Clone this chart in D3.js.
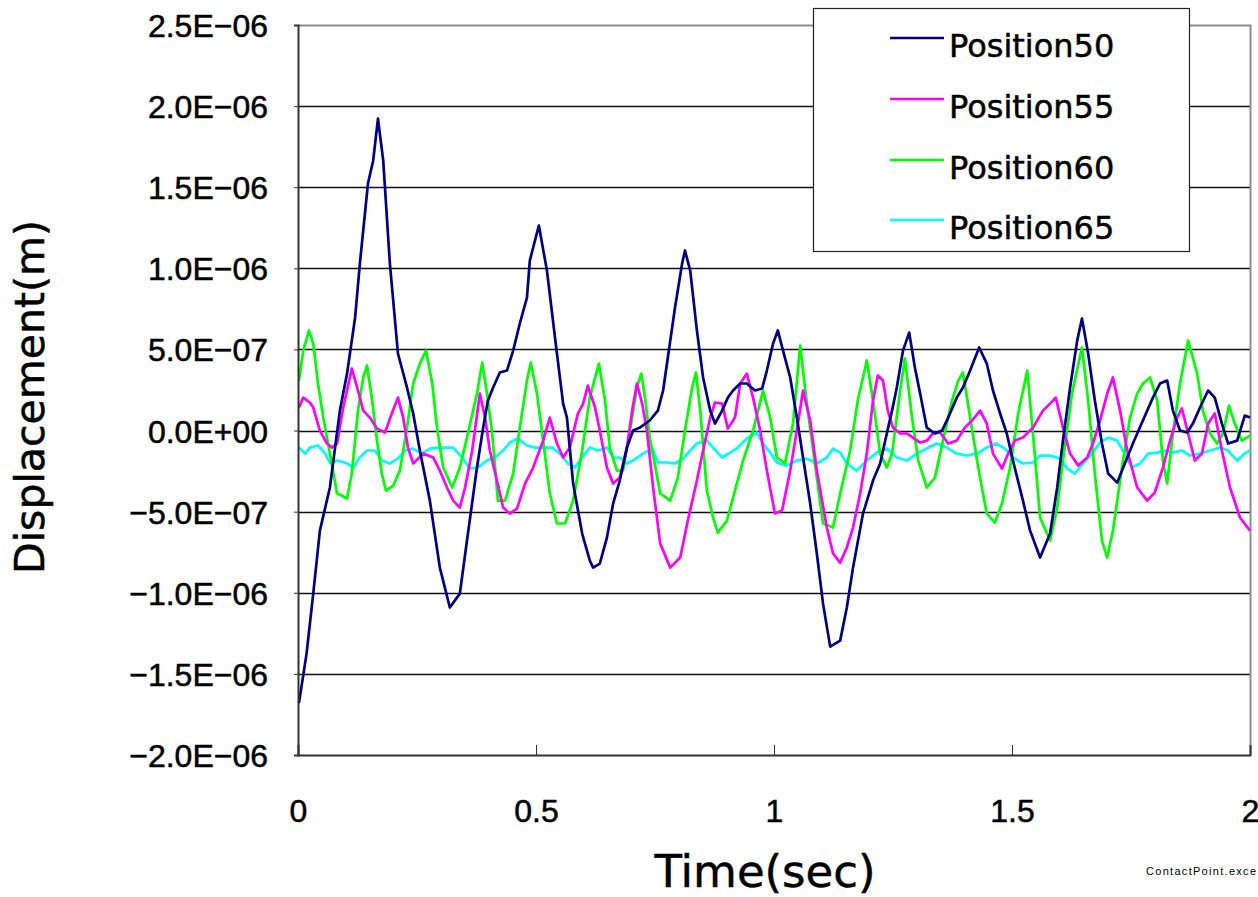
<!DOCTYPE html>
<html>
<head>
<meta charset="utf-8">
<script src="https://cdn.jsdelivr.net/npm/d3@7/dist/d3.min.js"></script>
<style>
  html, body { margin: 0; padding: 0; background: #fff; }
  svg { display: block; }
</style>
</head>
<body>
<svg id="chart" width="1258" height="897"></svg>
<script>
// ---------------- DATA ----------------
// values are in units of 1e-7 m, time in seconds
const UNIT = 1e-7;
const seriesNames = ["Position50", "Position55", "Position60", "Position65"];
const seriesColors = ["#000080", "#FF00FF", "#00FF00", "#00FFFF"];

const xTickValues = [0, 0.5, 1, 1.5, 2];
const xTickLabels = ["0", "0.5", "1", "1.5", "2"];
const yTickValues = [2.5e-6, 2.0e-6, 1.5e-6, 1.0e-6, 5.0e-7, 0, -5.0e-7, -1.0e-6, -1.5e-6, -2.0e-6];
const yTickLabels = ["2.5E\u221206", "2.0E\u221206", "1.5E\u221206", "1.0E\u221206", "5.0E\u221207", "0.0E+00",
                     "\u22125.0E\u221207", "\u22121.0E\u221206", "\u22121.5E\u221206", "\u22122.0E\u221206"];

const pos50 = [
[0.002,-16.8],[0.018,-13.75],[0.032,-10.05],[0.046,-6.17],[0.067,-3.51],[0.088,1.23],[0.103,3.51],[0.120,6.97],
[0.130,10.30],[0.147,15.23],[0.158,16.65],[0.168,19.23],[0.179,16.65],[0.193,10.30],[0.210,4.75],[0.229,2.65],
[0.242,1.05],[0.256,-1.23],[0.277,-4.32],[0.298,-8.45],[0.319,-10.91],[0.340,-10.05],[0.355,-6.78],[0.376,-2.28],
[0.389,0.18],[0.399,1.85],[0.410,2.65],[0.424,3.58],[0.439,3.70],[0.452,4.93],[0.466,6.60],[0.481,8.20],
[0.487,10.48],[0.506,12.64],[0.523,9.86],[0.544,4.75],[0.557,1.66],[0.565,0.80],[0.578,-3.27],[0.597,-6.35],
[0.613,-8.01],[0.620,-8.45],[0.634,-8.20],[0.649,-6.60],[0.662,-4.50],[0.676,-3.08],[0.691,-1.05],[0.704,0],
[0.718,0.18],[0.739,0.62],[0.756,1.23],[0.767,2.47],[0.777,4.50],[0.792,7.58],[0.807,10.30],[0.813,11.10],
[0.824,9.86],[0.838,6.17],[0.851,3.27],[0.866,1.23],[0.876,0.43],[0.891,1.23],[0.903,2.03],[0.914,2.47],
[0.929,2.90],[0.943,2.90],[0.960,2.47],[0.975,2.59],[0.985,3.70],[0.998,5.36],[1.008,6.17],[1.019,4.93],
[1.034,3.27],[1.048,0.80],[1.061,-1.66],[1.076,-4.50],[1.090,-7.58],[1.103,-10.67],[1.118,-13.32],[1.139,-12.95],
[1.153,-10.91],[1.166,-8.45],[1.187,-5.12],[1.208,-3.08],[1.223,-2.03],[1.237,-0.18],[1.248,1.23],[1.258,2.65],
[1.271,4.93],[1.284,6.04],[1.296,3.88],[1.307,2.28],[1.321,0.18],[1.338,-0.18],[1.353,0],[1.366,0.80],
[1.384,2.03],[1.397,2.65],[1.412,3.70],[1.431,5.12],[1.447,4.13],[1.460,2.47],[1.475,1.05],[1.489,-0.18],
[1.502,-1.85],[1.523,-4.32],[1.538,-6.17],[1.559,-7.83],[1.580,-6.35],[1.595,-3.51],[1.607,-0.62],[1.622,2.65],
[1.637,5.55],[1.647,6.90],[1.660,4.75],[1.674,1.85],[1.689,-0.80],[1.702,-2.65],[1.721,-3.21],[1.737,-2.03],
[1.754,-0.80],[1.775,0.62],[1.796,2.03],[1.811,2.90],[1.826,3.08],[1.838,1.23],[1.853,0],[1.868,-0.12],
[1.880,0.43],[1.895,1.42],[1.912,2.47],[1.926,2.03],[1.941,0.43],[1.954,-0.80],[1.973,-0.62],[1.989,0.92],[2.000,0.80]
];

const pos55 = [
[0.002,1.42],[0.011,2.03],[0.025,1.73],[0.032,1.42],[0.046,0],[0.061,-0.80],[0.071,-1.05],[0.082,-0.80],
[0.095,1.42],[0.113,3.82],[0.126,2.47],[0.137,1.23],[0.151,0.80],[0.166,0.12],[0.183,-0.12],[0.197,1.05],
[0.210,2.03],[0.221,0.80],[0.231,-1.05],[0.242,-2.03],[0.263,-1.42],[0.284,-1.66],[0.298,-2.47],[0.313,-3.51],
[0.326,-4.32],[0.340,-4.75],[0.351,-3.51],[0.366,-1.23],[0.382,2.28],[0.393,0.80],[0.403,-1.23],[0.418,-3.08],
[0.431,-4.75],[0.445,-5.12],[0.460,-4.81],[0.477,-3.27],[0.494,-2.28],[0.515,-0.62],[0.529,0.80],[0.544,-0.80],
[0.557,-1.66],[0.571,-1.05],[0.588,1.05],[0.599,1.66],[0.609,2.77],[0.624,1.42],[0.634,0],[0.649,-2.28],
[0.662,-3.27],[0.676,-2.90],[0.691,-1.05],[0.702,1.23],[0.712,2.90],[0.723,1.66],[0.733,0],[0.746,-3.51],
[0.761,-6.97],[0.782,-8.45],[0.803,-7.83],[0.819,-5.55],[0.838,-3.08],[0.851,-1.23],[0.866,0.80],[0.876,1.73],
[0.891,1.66],[0.903,0.12],[0.918,0.80],[0.929,2.90],[0.943,3.51],[0.956,2.03],[0.971,0],[0.985,-2.47],
[1.002,-5.12],[1.017,-4.93],[1.034,-2.47],[1.048,0],[1.061,2.47],[1.076,0.62],[1.090,-2.47],[1.111,-5.98],
[1.124,-7.58],[1.139,-8.14],[1.153,-7.21],[1.166,-5.98],[1.181,-3.88],[1.195,-1.42],[1.208,1.85],[1.218,3.39],
[1.229,3.08],[1.239,1.23],[1.250,0.18],[1.265,-0.18],[1.279,-0.18],[1.292,-0.43],[1.307,-0.74],[1.321,-0.62],
[1.334,-0.18],[1.349,-0.12],[1.366,-0.80],[1.384,-0.62],[1.401,0.18],[1.416,0.62],[1.433,1.23],[1.447,0.43],
[1.460,-1.42],[1.479,-2.34],[1.492,-1.42],[1.506,-0.62],[1.523,-0.43],[1.544,0.18],[1.565,1.23],[1.580,1.66],
[1.592,2.03],[1.607,0.18],[1.622,-1.42],[1.639,-2.16],[1.658,-1.66],[1.670,-0.80],[1.685,0.62],[1.700,2.28],
[1.712,3.27],[1.727,1.23],[1.742,-1.23],[1.763,-3.51],[1.784,-4.32],[1.800,-3.82],[1.817,-2.28],[1.832,-0.62],
[1.847,0.80],[1.857,1.36],[1.870,-0.18],[1.884,-1.85],[1.899,-1.42],[1.912,0.43],[1.926,1.05],[1.941,-1.23],
[1.958,-3.51],[1.979,-5.36],[2.000,-6.17]
];

const pos60 = [
[0.002,3.08],[0.011,4.93],[0.023,6.17],[0.032,5.36],[0.042,2.90],[0.053,0.80],[0.067,-1.42],[0.082,-3.88],
[0.092,-4.01],[0.103,-4.19],[0.113,-2.65],[0.126,1.23],[0.137,3.27],[0.145,4.01],[0.155,2.03],[0.166,-0.62],
[0.176,-2.65],[0.185,-3.70],[0.200,-3.39],[0.214,-2.47],[0.229,0.18],[0.242,2.90],[0.256,4.13],[0.269,4.93],
[0.282,2.90],[0.292,0.18],[0.305,-2.28],[0.324,-3.51],[0.340,-2.28],[0.357,-0.18],[0.376,2.28],[0.387,4.19],
[0.397,2.28],[0.408,-0.18],[0.420,-4.32],[0.435,-4.32],[0.452,-2.65],[0.466,0.18],[0.481,3.08],[0.489,4.19],
[0.502,2.28],[0.515,-0.62],[0.529,-3.88],[0.544,-5.73],[0.561,-5.73],[0.578,-4.32],[0.597,-1.23],[0.613,2.03],
[0.632,4.13],[0.645,1.85],[0.655,-1.05],[0.670,-2.47],[0.683,-2.47],[0.702,0.80],[0.712,2.65],[0.721,3.51],
[0.729,2.03],[0.739,-0.43],[0.761,-3.88],[0.782,-4.32],[0.798,-2.90],[0.813,0],[0.828,2.65],[0.836,3.58],
[0.845,1.23],[0.859,-3.70],[0.872,-5.36],[0.882,-6.29],[0.901,-5.55],[0.914,-4.13],[0.935,-1.85],[0.956,0],
[0.977,2.47],[0.992,0.80],[1.006,-1.66],[1.023,-2.03],[1.040,0.43],[1.055,5.24],[1.069,1.66],[1.086,-2.03],
[1.103,-5.73],[1.124,-5.98],[1.139,-3.88],[1.160,-1.23],[1.176,1.85],[1.195,4.32],[1.208,1.85],[1.223,-1.42],
[1.237,-2.28],[1.248,-1.42],[1.265,2.47],[1.275,4.44],[1.290,0.80],[1.303,-1.85],[1.321,-3.51],[1.338,-2.90],
[1.355,-0.62],[1.374,1.85],[1.387,3.08],[1.397,3.58],[1.412,0.80],[1.429,-2.28],[1.447,-5.12],[1.464,-5.67],
[1.479,-4.50],[1.496,-2.28],[1.513,1.05],[1.532,3.70],[1.544,-0.18],[1.559,-5.36],[1.580,-6.78],[1.595,-4.75],
[1.607,-1.85],[1.626,2.28],[1.647,5.12],[1.660,1.85],[1.674,-2.65],[1.689,-6.78],[1.700,-7.83],[1.712,-6.17],
[1.731,-2.28],[1.748,0.80],[1.763,2.28],[1.775,2.90],[1.790,3.27],[1.805,1.85],[1.817,-1.85],[1.826,-3.27],
[1.838,-0.18],[1.853,2.90],[1.870,5.55],[1.889,3.51],[1.901,1.23],[1.916,-0.18],[1.931,-0.80],[1.943,-0.18],
[1.956,1.54],[1.968,0.43],[1.983,-0.62],[2.000,-0.31]
];

const pos65 = [
[0.002,-1.05],[0.015,-1.42],[0.025,-1.05],[0.042,-0.92],[0.057,-1.42],[0.067,-1.97],[0.084,-1.85],[0.103,-2.03],
[0.116,-2.28],[0.130,-1.66],[0.145,-1.23],[0.162,-1.23],[0.176,-1.85],[0.193,-2.03],[0.210,-1.73],[0.225,-1.23],
[0.242,-1.11],[0.260,-1.42],[0.277,-1.11],[0.294,-1.05],[0.313,-1.05],[0.326,-1.05],[0.345,-1.66],[0.361,-2.34],
[0.378,-2.28],[0.397,-1.85],[0.414,-1.66],[0.431,-1.23],[0.445,-0.74],[0.462,-0.49],[0.481,-0.92],[0.498,-1.05],
[0.515,-1.05],[0.534,-1.05],[0.550,-1.42],[0.567,-2.03],[0.582,-2.28],[0.597,-1.66],[0.613,-1.05],[0.630,-1.23],
[0.649,-1.05],[0.662,-1.66],[0.676,-1.66],[0.691,-2.03],[0.704,-1.85],[0.725,-1.42],[0.744,-1.11],[0.756,-1.97],
[0.775,-1.97],[0.792,-2.03],[0.809,-1.73],[0.824,-1.23],[0.838,-0.80],[0.859,-0.62],[0.872,-1.05],[0.891,-1.66],
[0.908,-1.36],[0.924,-1.05],[0.943,-0.49],[0.964,-0.12],[0.977,-0.80],[0.992,-1.36],[1.006,-1.97],[1.027,-2.16],
[1.048,-1.85],[1.069,-1.73],[1.090,-2.03],[1.111,-1.66],[1.124,-1.11],[1.139,-1.36],[1.153,-2.03],[1.174,-2.47],
[1.195,-1.85],[1.216,-1.36],[1.237,-1.11],[1.258,-1.66],[1.279,-1.85],[1.300,-1.42],[1.321,-1.11],[1.342,-0.80],
[1.363,-1.05],[1.384,-1.42],[1.405,-1.54],[1.426,-1.42],[1.447,-1.05],[1.468,-0.80],[1.485,-1.11],[1.502,-1.66],
[1.523,-2.03],[1.544,-1.97],[1.559,-1.54],[1.580,-1.54],[1.601,-1.73],[1.616,-2.34],[1.632,-2.65],[1.649,-2.03],
[1.668,-1.42],[1.685,-0.74],[1.702,-0.43],[1.721,-0.62],[1.737,-1.42],[1.752,-2.28],[1.769,-2.03],[1.786,-1.42],
[1.805,-1.36],[1.821,-1.23],[1.838,-1.36],[1.857,-1.23],[1.874,-1.54],[1.895,-1.42],[1.916,-1.23],[1.937,-1.05],
[1.954,-1.23],[1.973,-1.85],[1.989,-1.42],[2.000,-1.23]
];

const seriesData = [pos50, pos55, pos60, pos65];

// ---------------- CHART ----------------
const svg = d3.select("#chart");
const plot = { left: 298, right: 1250, top: 25, bottom: 755 };

const x = d3.scaleLinear().domain([0, 2]).range([plot.left, plot.right]);
const y = d3.scaleLinear().domain([-2.0e-6, 2.5e-6]).range([plot.bottom, plot.top]);

svg.append("rect").attr("x", 0).attr("y", 0).attr("width", 1258).attr("height", 897).attr("fill", "#fff");

// gridlines
svg.append("g")
  .selectAll("line")
  .data(yTickValues.filter(v => v > -2.0e-6 && v < 2.5e-6))
  .join("line")
  .attr("x1", plot.left).attr("x2", plot.right)
  .attr("y1", d => Math.round(y(d)) + 0.5).attr("y2", d => Math.round(y(d)) + 0.5)
  .attr("stroke", "#111").attr("stroke-width", 1.3);

// top and right border (gray)
svg.append("path")
  .attr("d", `M${plot.left},${plot.top + 0.5}H${plot.right + 0.5}V${plot.bottom}`)
  .attr("fill", "none").attr("stroke", "#8c8c8c").attr("stroke-width", 2);

// series
const line = d3.line().x(d => x(d[0])).y(d => y(d[1] * UNIT));
svg.append("g")
  .selectAll("path")
  .data(seriesData.map((d, i) => ({ d, i })).reverse())
  .join("path")
  .attr("d", s => line(s.d))
  .attr("fill", "none")
  .attr("stroke", s => seriesColors[s.i])
  .attr("stroke-width", 2.7)
  .attr("stroke-linejoin", "round");

const textWeight = sel => sel.attr("stroke", "#000").attr("stroke-width", 0.5);

// y axis
const yAxis = d3.axisLeft(y).tickValues(yTickValues)
  .tickFormat((d, i) => yTickLabels[i]).tickSize(4).tickPadding(26);
const gy = svg.append("g").attr("transform", `translate(${plot.left},0)`).call(yAxis);
gy.select(".domain").attr("stroke", "#333").attr("stroke-width", 2);
gy.selectAll(".tick line").attr("stroke", "#333");
gy.selectAll(".tick text")
  .attr("font-family", "'Liberation Sans', Arial, sans-serif")
  .attr("font-size", 32).attr("fill", "#000").attr("dy", "0.36em")
  .call(textWeight);

// x axis
const xAxis = d3.axisBottom(x).tickValues(xTickValues)
  .tickFormat((d, i) => xTickLabels[i]).tickSize(-10).tickPadding(20);
const gx = svg.append("g").attr("transform", `translate(0,${plot.bottom})`).call(xAxis);
gx.select(".domain").attr("stroke", "#333").attr("stroke-width", 2);
gx.selectAll(".tick line").attr("stroke", "#333");
gx.selectAll(".tick text")
  .attr("font-family", "'Liberation Sans', Arial, sans-serif")
  .attr("font-size", 32).attr("fill", "#000").attr("dy", null).attr("y", 67)
  .call(textWeight);

// axis titles
svg.append("text")
  .attr("x", 765).attr("y", 887)
  .attr("text-anchor", "middle")
  .attr("font-family", "'DejaVu Sans', sans-serif")
  .attr("font-size", 45).attr("fill", "#000")
  .call(textWeight)
  .text("Time(sec)");

svg.append("text")
  .attr("transform", "translate(44,397) rotate(-90)")
  .attr("text-anchor", "middle")
  .attr("font-family", "'DejaVu Sans', sans-serif")
  .attr("font-size", 41).attr("fill", "#000")
  .call(textWeight)
  .text("Displacement(m)");

// legend
const legend = svg.append("g");
legend.append("rect")
  .attr("x", 813.5).attr("y", 8.5).attr("width", 376).attr("height", 243)
  .attr("fill", "#fff").attr("stroke", "#222").attr("stroke-width", 1.2);
const rowY = [38, 99, 160, 220];
seriesNames.forEach((name, i) => {
  legend.append("line")
    .attr("x1", 890).attr("x2", 944).attr("y1", rowY[i]).attr("y2", rowY[i])
    .attr("stroke", seriesColors[i]).attr("stroke-width", 2.7);
  legend.append("text")
    .attr("x", 949).attr("y", rowY[i] + 19)
    .attr("font-family", "'DejaVu Sans', sans-serif")
    .attr("font-size", 32).attr("fill", "#000")
    .call(textWeight)
    .text(name);
});

// footnote
svg.append("text")
  .attr("x", 1146).attr("y", 875)
  .attr("font-family", "'Liberation Sans', Arial, sans-serif")
  .attr("font-size", 11).attr("fill", "#000")
  .attr("textLength", 110).attr("lengthAdjust", "spacing")
  .text("ContactPoint.exce");
</script>
</body>
</html>
